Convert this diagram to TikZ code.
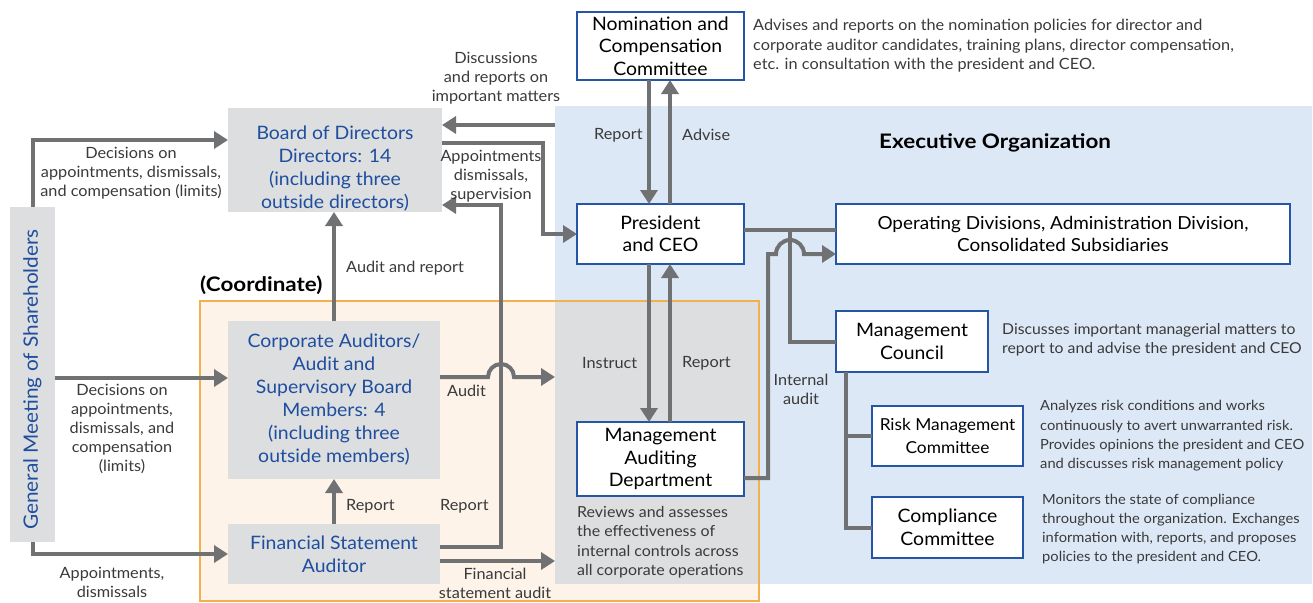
\documentclass[tikz,border=0pt]{standalone}
\usepackage{fontspec}
\setmainfont{Lato}[FakeStretch=1.05]
\newfontfamily\headfont{Lato}[FakeStretch=1.12]
\usetikzlibrary{arrows.meta,calc}
\definecolor{arrowgrey}{HTML}{707172}
\definecolor{boxblue}{HTML}{2556A6}
\definecolor{titleblue}{HTML}{1F4E9E}
\definecolor{panelgrey}{HTML}{DCDEE0}
\definecolor{execblue}{HTML}{DDE8F6}
\definecolor{coordfill}{HTML}{FDF3E8}
\definecolor{coordline}{HTML}{F2B14E}
\definecolor{labeltext}{HTML}{3A3A3A}
\begin{document}
\begin{tikzpicture}[x=1pt,y=-1pt,
  whitebox/.style={draw=boxblue, line width=1.4pt, fill=white, inner sep=0pt, outer sep=0pt,
    align=center, text=black, font=\fontsize{18.5}{22.5}\selectfont},
  greybox/.style={fill=panelgrey, inner sep=0pt, outer sep=0pt, align=center, text=titleblue,
    font=\fontsize{18.5}{23}\selectfont},
  lbl/.style={inner sep=0pt, align=center, text=labeltext, font=\fontsize{15.5}{19}\selectfont},
  desc/.style={inner sep=0pt, align=left, text=labeltext, font=\fontsize{15.5}{19.5}\selectfont},
  smalldesc/.style={inner sep=0pt, align=left, text=labeltext, font=\fontsize{14}{19.3}\selectfont},
  heading/.style={inner sep=0pt, text=black, font=\fontsize{20}{22}\headfont\bfseries},
  conn/.style={draw=arrowgrey, line width=4pt},
  arr/.style={conn, -{Triangle[length=14pt,width=17pt]}}
]
\useasboundingbox (0,0) rectangle (1313,602);

% background regions
\fill[coordfill] (200,301) rectangle (759,601);
\fill[execblue] (555,106) rectangle (1312,584);
\fill[panelgrey] (555,301) rectangle (759,584);
\draw[coordline, line width=1.5pt] (200,301) rectangle (759,601);

\coordinate (execL) at (555,125);

% governance bodies
\node[greybox, rotate=90, minimum width=335pt, minimum height=45pt,
  font=\fontsize{19.8}{22}\selectfont] (gm) at (32.5,374.5) {General Meeting of Shareholders\rule{10pt}{0pt}};
\node[greybox, minimum width=214pt, minimum height=104pt] (board) at (335,160)
  {\rule{0pt}{30pt}Board of Directors\\Directors: 14\\(including three\\outside directors)};
\node[greybox, minimum width=212pt, minimum height=158pt] (ca) at (334,400)
  {Corporate Auditors/\\Audit and\\Supervisory Board\\Members: 4\\(including three\\outside members)};
\node[greybox, minimum width=212pt, minimum height=60pt] (fsa) at (334,554)
  {Financial Statement\\Auditor};

% executive bodies
\node[whitebox, minimum width=167pt, minimum height=68pt] (nom) at (660.5,46)
  {Nomination and\\Compensation\\Committee};
\node[whitebox, minimum width=167pt, minimum height=60pt] (pres) at (660.5,234)
  {President\\and CEO};
\node[whitebox, minimum width=454pt, minimum height=60pt, font=\fontsize{18}{22.5}\selectfont] (oper) at (1063,234)
  {Operating Divisions, Administration Division,\\Consolidated Subsidiaries};
\node[whitebox, minimum width=167pt, minimum height=74pt] (mad) at (660.5,459)
  {Management\\Auditing\\Department};
\node[whitebox, minimum width=152pt, minimum height=61pt] (council) at (912,341.5)
  {Management\\Council};
\node[whitebox, minimum width=151pt, minimum height=60pt, font=\fontsize{16.5}{22.5}\selectfont] (risk) at (947.5,436)
  {Risk Management\\Committee};
\node[whitebox, minimum width=151pt, minimum height=61pt] (comp) at (947.5,527.5)
  {Compliance\\Committee};

% headings
\node[heading, anchor=west] (exectitle) at (879,143) {Executive Organization};
\node[heading, anchor=west] (coordtitle) at (200,285) {(Coordinate)};

% descriptions
\node[desc, anchor=west] (nomdesc) at (753,46)
  {Advises and reports on the nomination policies for director and\\corporate auditor candidates, training plans, director compensation,\\etc. in consultation with the president and CEO.};
\node[desc, anchor=west, font=\fontsize{15}{19.5}\selectfont] (councildesc) at (1002,340)
  {Discusses important managerial matters to\\report to and advise the president and CEO};
\node[smalldesc, anchor=west] (riskdesc) at (1040,436)
  {Analyzes risk conditions and works\\continuously to avert unwarranted risk.\\Provides opinions the president and CEO\\and discusses risk management policy};
\node[smalldesc, anchor=west] (compdesc) at (1042,529)
  {Monitors the state of compliance\\throughout the organization. Exchanges\\information with, reports, and proposes\\policies to the president and CEO.};
\node[desc, anchor=west, font=\fontsize{15.2}{19.5}\selectfont] (maddesc) at (577,542)
  {Reviews and assesses\\the effectiveness of\\internal controls across\\all corporate operations};

% shareholders to governance bodies
\draw[arr] (gm.east) |- ([yshift=20pt]board.west);
\coordinate (caIn) at ([yshift=22pt]ca.west);
\draw[arr] (gm.south |- caIn) -- (caIn);
\draw[arr] (gm.west) |- (fsa.west);

% board and executive links
\draw[arr] (execL) -- (board.east |- execL);
\draw[arr] ([yshift=17pt]board.east) -- ++(101,0) |- (pres.west);

% auditors
\draw[arr] (ca.north) -- (ca.north |- board.south);
\draw[arr] (fsa.north) -- (fsa.north |- ca.south);
\draw[arr] ([yshift=7pt]fsa.east) -- ++(61,0) |- ([yshift=-45pt]board.east);
\draw[arr] ([yshift=23pt]ca.east) -- (488,377) arc[start angle=180,end angle=0,radius=13pt] -- ++(41,0);
\draw[arr] ([yshift=-7pt]fsa.east) -- ++(115,0);

% president links
\draw[arr] ([xshift=-11.5pt]nom.south) -- ([xshift=-11.5pt]pres.north);
\draw[arr] ([xshift=9.5pt]pres.north) -- ([xshift=9.5pt]nom.south);
\draw[arr] ([xshift=-11.5pt]pres.south) -- ([xshift=-11.5pt]mad.north);
\draw[arr] ([xshift=9.5pt]mad.north) -- ([xshift=9.5pt]pres.south);

% president to operating divisions and council
\draw[conn] ([yshift=4pt]pres.east) -- ([yshift=4pt]oper.west);
\coordinate (j1) at (790,230);
\draw[conn] (j1) |- (council.west);

% internal audit
\coordinate (ia) at (768,254);
\draw[arr] ([yshift=-19pt]mad.east) -| (ia) -- ++(8,0) arc[start angle=180,end angle=0,radius=14pt] -- ([yshift=-20pt]oper.west);

% council committees
\coordinate (c15) at ([xshift=-66pt]council.south);
\draw[conn] (c15) |- (comp.west);
\draw[conn] (c15 |- risk.west) -- (risk.west);

% connector labels
\node[lbl] (l1) at (131,173) {Decisions on\\appointments, dismissals,\\and compensation (limits)};
\node[lbl] (l2) at (122,428.5) {Decisions on\\appointments,\\dismissals, and\\compensation\\(limits)};
\node[lbl] (l3) at (112,582) {Appointments,\\dismissals};
\node[lbl] (l4) at (496,78) {Discussions\\and reports on\\important matters};
\node[lbl] (l5) at (491,176) {Appointments\\dismissals,\\supervision};
\node[lbl, anchor=west] (l6) at (346,268) {Audit and report};
\node[lbl, anchor=west] (l7) at (346,506) {Report};
\node[lbl, anchor=west] (l8) at (440,506) {Report};
\node[lbl, anchor=west] (l9) at (447,391) {Audit};
\node[lbl] (l10) at (495,583) {Financial\\statement audit};
\node[lbl, anchor=west] (l11a) at (594,135) {Report};
\node[lbl, anchor=west] (l11b) at (682,135) {Advise};
\node[lbl, anchor=west] (l12a) at (582,363) {Instruct};
\node[lbl, anchor=west] (l12b) at (682,363) {Report};
\node[lbl] (l13) at (801,389) {Internal\\audit};
\end{tikzpicture}
\end{document}
